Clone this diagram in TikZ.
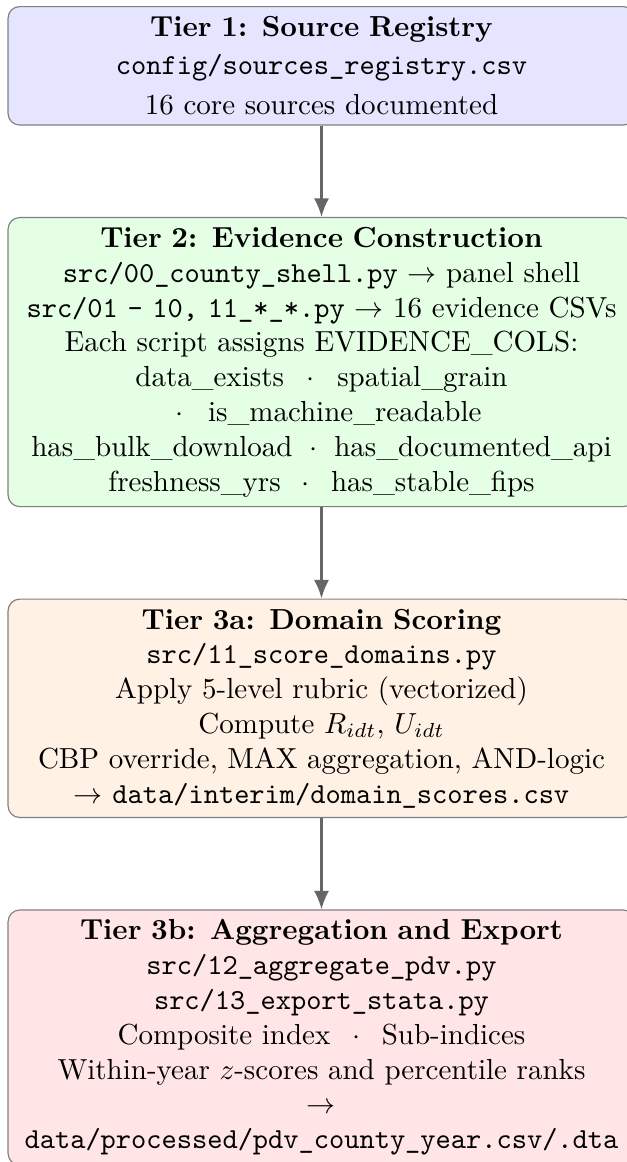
\documentclass[tikz,border=0pt]{standalone}
\usetikzlibrary{positioning,arrows.meta}
\tikzset{
  tierbox/.style={draw=black!50, line width=0.4pt, rounded corners=4pt,
    text width=209.5pt, align=center, inner sep=3.33pt},
  flowarrow/.style={draw=black!60, thick, -{Latex[length=6.4pt,width=5.2pt]}},
}
\newcommand{\sepdot}{$\:\cdot\:$}
\begin{document}
\begin{tikzpicture}[x=0.344828pt, y=-0.344828pt, node distance=31.5pt]
\useasboundingbox (0,0) rectangle (626,1162);
\node[tierbox, fill=blue!10, anchor=north] (t1) at (321.5,6)
  {\textbf{Tier 1: Source Registry}\\[1pt]
   \texttt{config/sources\_registry.csv}\\[2pt]
   16 core sources documented};
\node[tierbox, fill=green!10, below=of t1] (t2)
  {\textbf{Tier 2: Evidence Construction}\\
   \texttt{src/00\_county\_shell.py} $\rightarrow$ panel shell\\
   \texttt{src/01 - 10, 11\_*\_*.py} $\rightarrow$ 16 evidence CSVs\\
   Each script assigns EVIDENCE\_COLS:\\
   data\_exists \sepdot{} spatial\_grain\\
   \sepdot{} is\_machine\_readable\\
   has\_bulk\_download \sepdot{} has\_documented\_api\\
   freshness\_yrs \sepdot{} has\_stable\_fips};
\node[tierbox, fill=orange!10, below=of t2] (t3)
  {\textbf{Tier 3a: Domain Scoring}\\
   \texttt{src/11\_score\_domains.py}\\
   Apply 5-level rubric (vectorized)\\
   Compute $R_{idt}$, $U_{idt}$\\
   CBP override, MAX aggregation, AND-logic\\
   $\rightarrow$ \texttt{data/interim/domain\_scores.csv}};
\node[tierbox, fill=red!10, below=of t3] (t4)
  {\textbf{Tier 3b: Aggregation and Export}\\
   \texttt{src/12\_aggregate\_pdv.py}\\
   \texttt{src/13\_export\_stata.py}\\
   Composite index \sepdot{} Sub-indices\\
   Within-year $z$-scores and percentile ranks\\
   $\rightarrow$\\
   \texttt{data/processed/pdv\_county\_year.csv/.dta}};
\draw[flowarrow] (t1) -- (t2);
\draw[flowarrow] (t2) -- (t3);
\draw[flowarrow] (t3) -- (t4);
\end{tikzpicture}
\end{document}
